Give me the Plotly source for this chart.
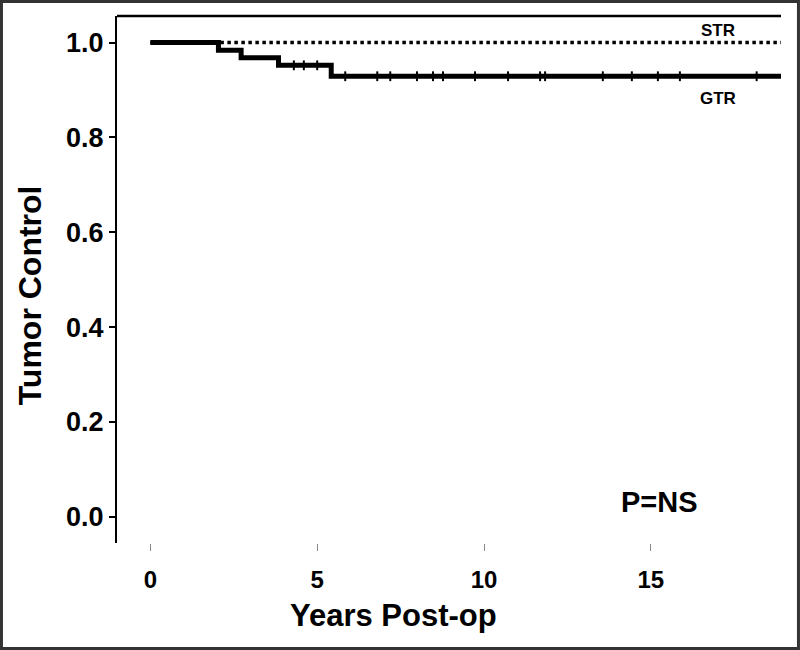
import plotly.graph_objects as go

# NOTE: Kaplan-Meier style step data
gtr_time = [0, 2.04, 2.72, 3.84, 5.42, 18.9]
gtr_surv = [1.0, 0.984, 0.968, 0.952, 0.929, 0.929]

str_time = [0, 18.9]
str_surv = [1.0, 1.0]

# NOTE: censor ticks on the GTR curve
gtr_cens_time = [4.3, 4.6, 5.0, 5.84, 6.8, 7.19, 7.99, 8.47, 8.77, 9.73,
                 10.72, 11.68, 11.83, 13.56, 14.43, 15.21, 15.87, 18.17]
gtr_cens_surv = [0.952, 0.952, 0.952] + [0.929] * 15

x_ticks = [0, 5, 10, 15]
y_ticks = [0.0, 0.2, 0.4, 0.6, 0.8, 1.0]

font = "Liberation Sans, Arial, sans-serif"

fig = go.Figure()

fig.add_trace(go.Scatter(x=str_time, y=str_surv, mode="lines", name="STR",
                         line=dict(color="black", width=3.5, dash="dot")))
fig.add_trace(go.Scatter(x=gtr_time, y=gtr_surv, mode="lines", name="GTR",
                         line=dict(color="black", width=5, shape="hv")))
fig.add_trace(go.Scatter(x=gtr_cens_time, y=gtr_cens_surv, mode="markers",
                         showlegend=False,
                         marker=dict(symbol="line-ns-open", size=7,
                                     color="black",
                                     line=dict(color="black", width=2))))

# NOTE: curve labels and p-value
fig.add_annotation(x=17.0, y=1.026, text="<b>STR</b>", showarrow=False,
                   xanchor="center", yanchor="middle",
                   font=dict(family=font, size=17, color="black"))
fig.add_annotation(x=17.0, y=0.883, text="<b>GTR</b>", showarrow=False,
                   xanchor="center", yanchor="middle",
                   font=dict(family=font, size=17, color="black"))
fig.add_annotation(x=15.27, y=0.031, text="<b>P=NS</b>", showarrow=False,
                   xanchor="center", yanchor="middle",
                   font=dict(family=font, size=29, color="black"))

# NOTE: axis titles placed as annotations to follow the original offset
fig.add_annotation(xref="paper", yref="paper", x=0.417, y=-0.137,
                   xanchor="center", yanchor="middle",
                   text="<b>Years Post-op</b>", showarrow=False,
                   font=dict(family=font, size=31, color="black"))
fig.add_annotation(xref="paper", yref="paper", x=-0.131, y=0.47,
                   xanchor="center", yanchor="middle",
                   text="<b>Tumor Control</b>", showarrow=False, textangle=-90,
                   font=dict(family=font, size=32, color="black"))

# NOTE: top border of plot and outer frame of the picture
fig.add_shape(type="line", xref="paper", yref="paper", x0=0, x1=1, y0=1, y1=1,
              line=dict(color="black", width=2.5))
fig.add_shape(type="rect", xref="paper", yref="paper",
              x0=-0.174, x1=1.0263, y0=-0.2002, y1=1.0275,
              line=dict(color="#333333", width=3))

fig.update_xaxes(range=[-1, 18.9], tickvals=x_ticks, showline=False,
                 showgrid=False, zeroline=False, ticks="outside", ticklen=7,
                 tickwidth=1, tickcolor="#888888", ticklabelstandoff=8,
                 tickfont=dict(family=font, size=24, color="black",
                               weight="bold"))
fig.update_yaxes(range=[-0.055, 1.056], tickvals=y_ticks, tickformat=".1f",
                 showline=True, linecolor="black", linewidth=2,
                 showgrid=False, zeroline=False, ticks="outside", ticklen=6,
                 tickwidth=2, tickcolor="black",
                 tickfont=dict(family=font, size=27, color="black",
                               weight="bold"))

fig.update_layout(width=800, height=650, showlegend=False,
                  plot_bgcolor="white", paper_bgcolor="white",
                  margin=dict(l=117, r=19, t=16, b=107))

# NOTE: drop the page margin so the figure sits at the window corner
fig.write_html("out.html", config={"displayModeBar": False},
               post_script="document.body.style.margin='0';"
                           "document.body.style.overflow='hidden';")
